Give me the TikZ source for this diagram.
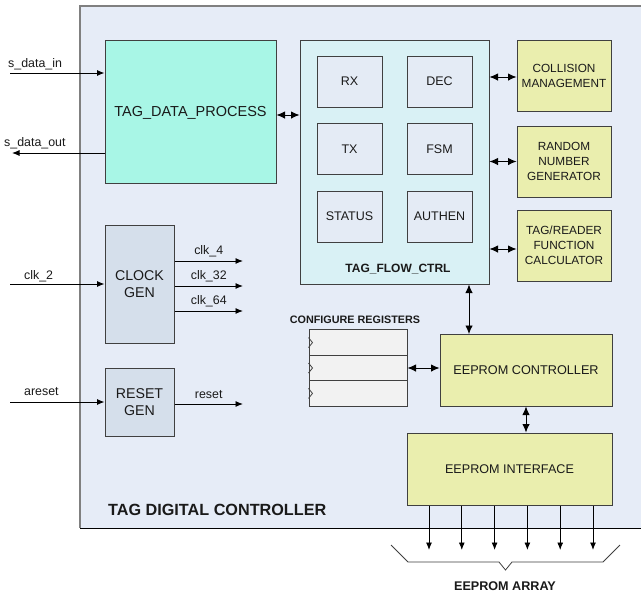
\documentclass[tikz,border=0pt]{standalone}
\usepackage{fontspec}
\setmainfont{Liberation Sans}
\usetikzlibrary{arrows.meta,calc}

\definecolor{outerfill}{HTML}{E6ECF7}
\definecolor{procfill}{HTML}{A8F6E6}
\definecolor{flowfill}{HTML}{D9F1F5}
\definecolor{subfill}{HTML}{E4EBF5}
\definecolor{yelfill}{HTML}{EAEEAE}
\definecolor{genfill}{HTML}{D5DFEB}
\definecolor{regfill}{HTML}{F2F2F2}
\definecolor{boxline}{HTML}{404040}
\definecolor{txt}{HTML}{1A1A1A}

\newcommand{\fs}[1]{\fontsize{#1}{#1}\selectfont}

\begin{document}
\begin{tikzpicture}[x=1pt,y=-1pt,
  blk/.style={draw=boxline, line width=1pt, rectangle, inner sep=0pt,
              align=center, text=txt},
  procbox/.style={blk, fill=procfill, minimum width=171pt, minimum height=143pt,
                  font=\fs{14.5}, text depth=0pt},
  flowbox/.style={blk, fill=flowfill, minimum width=189pt, minimum height=244pt},
  subbox/.style={blk, fill=subfill, minimum width=65pt, minimum height=51pt,
                 font=\fs{12.5}},
  yelbox/.style={blk, fill=yelfill, minimum width=94pt, minimum height=71pt,
                 font=\fontsize{11.8}{15}\selectfont},
  genbox/.style={blk, fill=genfill, minimum width=69pt,
                 font=\fontsize{14.2}{17.3}\selectfont},
  regbox/.style={blk, fill=regfill, minimum width=98pt, minimum height=25.4pt},
  eebox/.style={blk, fill=yelfill, minimum height=72pt, font=\fs{12.6}},
  sig/.style={draw=black, line width=0.9pt, -{Latex[length=7.5pt,width=6pt]}},
  dbl/.style={draw=black, line width=0.9pt,
              {Latex[length=8.5pt,width=7.5pt]}-{Latex[length=8.5pt,width=7.5pt]}},
  siglbl/.style={font=\fs{12.4}, text=txt, inner sep=0pt, anchor=base},
  bold/.style={font=\bfseries, text=txt, inner sep=0pt}
]
\useasboundingbox (0,0) rectangle (641,595);
\fill[white] (0,0) rectangle (641,595);

% outer controller area
\fill[outerfill] (80,6) rectangle (645,528);
\draw[gray, line width=1.6pt] (645,6) -- (80,6) -- (80,528);
\draw[black, line width=1pt] (80,528) -- (645,528);
\node[bold, font=\fs{16.2}\bfseries, anchor=west] (tdclbl) at (108,509.5) {TAG DIGITAL CONTROLLER};

% data path
\node[procbox] (tdp) at (190.5,111.5) {TAG\_DATA\_PROCESS};
\node[flowbox] (tfc) at (394.5,162) {};
\node[bold, font=\fs{12}\bfseries, anchor=base] (tfclbl) at (398,272) {TAG\_FLOW\_CTRL};

\node[subbox] (rx)     at (349.5,81.5)  {RX};
\node[subbox] (dec)    at (439.5,81.5)  {DEC};
\node[subbox] (tx)     at (349.5,149)   {TX};
\node[subbox] (fsm)    at (439.5,149)   {FSM};
\node[subbox] (status) at (349.5,216.5) {STATUS};
\node[subbox] (authen) at (439.5,216.5) {AUTHEN};

\node[yelbox] (cm)  at (564,75.5)  {COLLISION\\MANAGEMENT};
\node[yelbox] (rng) at (564,161.5) {RANDOM\\NUMBER\\GENERATOR};
\node[yelbox] (trf) at (564,245.5) {TAG/READER\\FUNCTION\\CALCULATOR};

\draw[dbl] (tdp.east |- 0,115) -- (tfc.west |- 0,115);
\draw[dbl] (tfc.east |- 0,77)  -- (cm.west |- 0,77);
\draw[dbl] (tfc.east |- rng.west) -- (rng.west);
\draw[dbl] (tfc.east |- 0,249) -- (trf.west |- 0,249);

% serial data ports
\coordinate (sdin)  at (10,73);
\coordinate (sdout) at (12,153);
\draw[sig] (sdin) -- (sdin -| tdp.west);
\draw[sig] (sdout -| tdp.west) -- (sdout);
\node[siglbl, anchor=base west] (sdinlbl)  at (8,67.5)  {s\_data\_in};
\node[siglbl, anchor=base west] (sdoutlbl) at (4,146.5) {s\_data\_out};

% clock and reset generation
\node[genbox, minimum height=118pt] (cg) at (139.5,284) {CLOCK\\GEN};
\node[genbox, minimum height=68pt]  (rg) at (139.5,402) {RESET\\GEN};

\coordinate (clkin) at (10,284);
\coordinate (rstin) at (10,402);
\draw[sig] (clkin) -- (cg.west);
\draw[sig] (rstin) -- (rg.west);
\node[siglbl, anchor=base west] (clkinlbl) at (24,279)   {clk\_2};
\node[siglbl, anchor=base west] (rstinlbl) at (24,395.5) {areset};

\coordinate (o4)  at (243,261);
\coordinate (o32) at (243,286);
\coordinate (o64) at (243,311);
\coordinate (orst) at (243,404);
\draw[sig] (o4 -| cg.east) -- (o4) node[siglbl, midway, yshift=6.8pt] (l4) {clk\_4};
\draw[sig] (o32 -| cg.east) -- (o32) node[siglbl, midway, yshift=6.8pt] (l32) {clk\_32};
\draw[sig] (o64 -| cg.east) -- (o64) node[siglbl, midway, yshift=6.8pt] (l64) {clk\_64};
\draw[sig] (orst -| rg.east) -- (orst) node[siglbl, midway, yshift=5.5pt] (lrst) {reset};

% configuration registers
\node[bold, font=\fs{10.8}\bfseries] (crlbl) at (355,320) {CONFIGURE REGISTERS};
\node[regbox] (reg1) at (358,342.6) {};
\node[regbox] (reg2) at (358,368)   {};
\node[regbox] (reg3) at (358,393.4) {};
\foreach \r in {reg1,reg2,reg3}{
  \draw[boxline, line width=0.8pt]
    ($(\r.west)+(0,-5)$) -- ($(\r.west)+(4,0)$) -- ($(\r.west)+(0,5)$);
}

% EEPROM path
\node[eebox, minimum width=172pt, font=\fs{12.7}] (ctrl)  at (526,370)   {EEPROM CONTROLLER};
\node[eebox, minimum width=205pt] (iface) at (509.5,469) {EEPROM INTERFACE};

\coordinate (vtop) at (469,334);
\draw[dbl] (vtop |- tfc.south) -- (vtop);
\draw[dbl] (reg2.east) -- (reg2.east -| ctrl.west);
\draw[dbl] (ctrl.south) -- (ctrl.south |- iface.north);

\foreach \x [count=\i] in {429,461.8,494.6,527.4,560.2,593}{
  \coordinate (bus\i) at (\x,550);
  \draw[sig] (bus\i |- iface.south) -- (bus\i);
}

% EEPROM array brace
\draw[boxline, line width=0.8pt]
  (391,545) -- (408,562) -- (499,562) -- (505.5,570) -- (512,562)
  -- (603,562) -- (620,545);
\node[bold, font=\fs{12.6}\bfseries] (ealbl) at (505,586) {EEPROM ARRAY};
\end{tikzpicture}
\end{document}
